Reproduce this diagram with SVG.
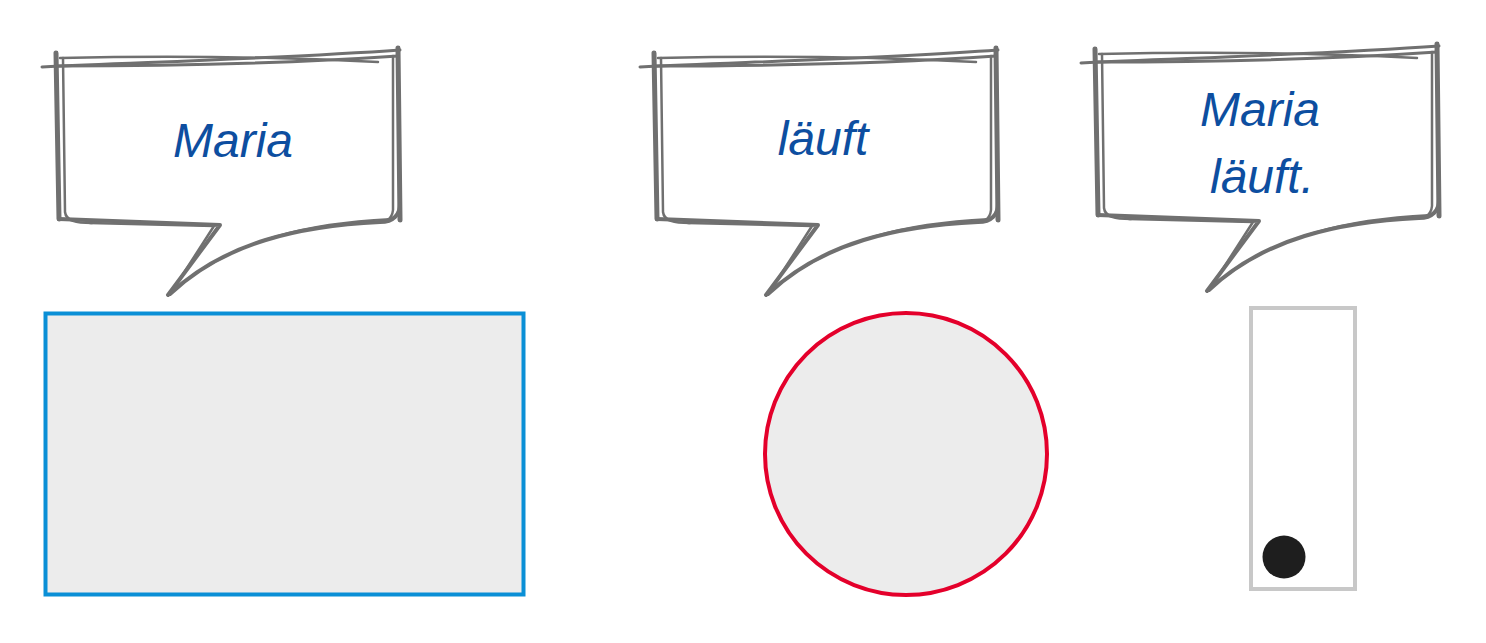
<svg xmlns="http://www.w3.org/2000/svg" width="1486" height="643" viewBox="0 0 1486 643">
<style>
.sk{fill:none;stroke:#707070;stroke-linecap:round;stroke-linejoin:round}
.t{font-family:"Liberation Sans",Arial,sans-serif;font-style:italic;font-size:48px;fill:#0d4ea0;text-anchor:middle}
</style>
<defs>
<g id="bubble">
<path d="M66,62 L390,62 L394,218 L220,224 L170,294 C230,235 310,224 394,218 Z" fill="#fff" stroke="none"/>
<path class="sk" stroke-width="5" d="M56,53 L59,219"/>
<path class="sk" stroke-width="2.5" d="M63,58 L65,212 C66,221 76,223 92,223"/>
<path class="sk" stroke-width="3" d="M42,67 C150,62 290,58 400,50"/>
<path class="sk" stroke-width="2.5" d="M60,58 C190,55 300,58 378,62"/>
<path class="sk" stroke-width="3" d="M58,66 C200,66 310,62 398,56"/>
<path class="sk" stroke-width="5" d="M398,48 L400,220"/>
<path class="sk" stroke-width="2.5" d="M393,56 L393,210 C392,220 386,222 372,222"/>
<path class="sk" stroke-width="4" d="M59,219 L220,225 L168,295"/>
<path class="sk" stroke-width="2.5" d="M90,223 L214,226 L176,285"/>
<path class="sk" stroke-width="4" d="M170,294 C225,242 300,226 380,222 C394,222 400,214 400,204"/>
<path class="sk" stroke-width="2" d="M180,285 C240,238 310,223 390,219"/>
</g>
</defs>
<g id="bubble1"><use href="#bubble"/><text class="t" x="233" y="157">Maria</text></g>
<g id="bubble2"><use href="#bubble" transform="translate(598,0)"/><text class="t" x="823" y="155">läuft</text></g>
<g id="bubble3"><use href="#bubble" transform="translate(1039,-4)"/><text class="t" x="1260" y="126">Maria</text><text class="t" x="1262" y="193">läuft.</text></g>
<g id="rect1"><rect x="45.5" y="313.5" width="478" height="281" fill="#ececec" stroke="#0a8fd6" stroke-width="4"/></g>
<g id="circle1"><circle cx="906" cy="454" r="141" fill="#ececec" stroke="#e4002b" stroke-width="4"/></g>
<g id="tube"><rect x="1251" y="308" width="104" height="281" fill="#fff" stroke="#c8c8c8" stroke-width="4"/><circle cx="1284" cy="557" r="21.5" fill="#1e1e1e"/></g>
<g id="connectors"/>
</svg>
